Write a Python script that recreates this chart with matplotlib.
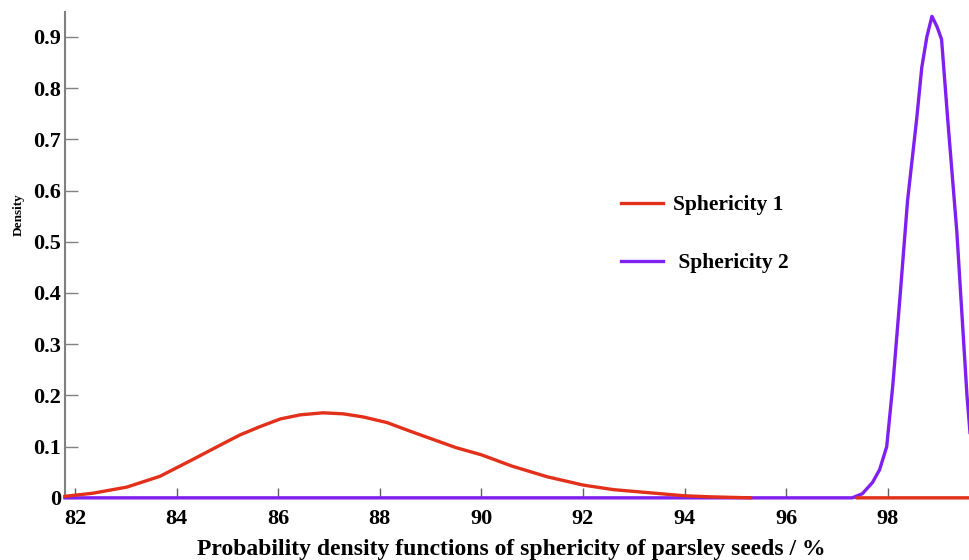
import numpy as np
import matplotlib
matplotlib.use('Agg')
import matplotlib.pyplot as plt

# density curves read along the sphericity axis (%)
sph1_x = [81.8, 82.35, 83.02, 83.67, 84.32, 84.8, 85.25, 85.64, 86.04, 86.43, 86.88,
          87.28, 87.67, 88.14, 88.6, 89.05, 89.5, 90.0, 90.6, 91.3, 92.0, 92.6, 93.3,
          94.0, 94.5, 95.3, np.nan, 97.4, 99.6]
sph1_y = [0.003, 0.009, 0.021, 0.042, 0.075, 0.100, 0.123, 0.139, 0.154, 0.162, 0.166,
          0.164, 0.158, 0.147, 0.130, 0.114, 0.098, 0.084, 0.062, 0.041, 0.025, 0.016, 0.010,
          0.004, 0.002, 0.0, np.nan, 0.0, 0.0]

sph2_x = [81.8, 97.3, 97.5, 97.7, 97.84, 97.98, 98.1, 98.24, 98.39, 98.57, 98.67,
          98.77, 98.87, 98.97, 99.06, 99.18, 99.36, 99.56, 99.7]
sph2_y = [0.0, 0.0, 0.008, 0.030, 0.055, 0.100, 0.220, 0.390, 0.580, 0.740, 0.840,
          0.900, 0.940, 0.920, 0.895, 0.740, 0.520, 0.200, 0.03]

x_ticks = [82, 84, 86, 88, 90, 92, 94, 96, 98]
y_ticks = [0, 0.1, 0.2, 0.3, 0.4, 0.5, 0.6, 0.7, 0.8, 0.9]
y_tick_labels = ['0', '0.1', '0.2', '0.3', '0.4', '0.5', '0.6', '0.7', '0.8', '0.9']

plt.rcParams['font.family'] = ['Liberation Serif', 'DejaVu Serif']
plt.rcParams['font.weight'] = 'bold'

fig = plt.figure(figsize=(9.69, 5.6), dpi=100)
ax = fig.add_axes([0.067, 0.111, 0.933, 0.868])

ax.plot(sph2_x, sph2_y, color='#8020f0', lw=2.4, clip_on=False, zorder=3,
        label=' Sphericity 2')
ax.plot(sph1_x, sph1_y, color='#e2301a', lw=2.4, clip_on=False, zorder=4,
        label='Sphericity 1')

ax.set_xlim(81.8, 99.6)
ax.set_ylim(0, 0.949)
ax.set_xticks(x_ticks)
ax.set_yticks(y_ticks)
ax.set_yticklabels(y_tick_labels)

for side in ['top', 'right']:
    ax.spines[side].set_visible(False)
for side in ['left', 'bottom']:
    ax.spines[side].set_color('#808080')
    ax.spines[side].set_linewidth(1.5)

ax.tick_params(axis='x', direction='in', length=7, width=1, color='#606060',
               labelsize=16, pad=8)
ax.tick_params(axis='y', direction='in', length=9, width=1, color='#808080',
               labelsize=16, pad=3)

ax.set_xlabel('Probability density functions of sphericity of parsley seeds / %',
              fontsize=17, fontweight='bold')
ax.xaxis.set_label_coords(0.494, -0.084)
ax.set_ylabel('Density', fontsize=9.5, fontweight='bold')
ax.yaxis.set_label_coords(-0.044, 0.582)

handles, labels = ax.get_legend_handles_labels()
ax.legend(handles[::-1], labels[::-1], loc='upper left', bbox_to_anchor=(0.594, 0.662),
          frameon=False, fontsize=15.5, handlelength=1.95, labelspacing=1.75,
          handletextpad=0.45)

fig.savefig('out.png', dpi=100)
